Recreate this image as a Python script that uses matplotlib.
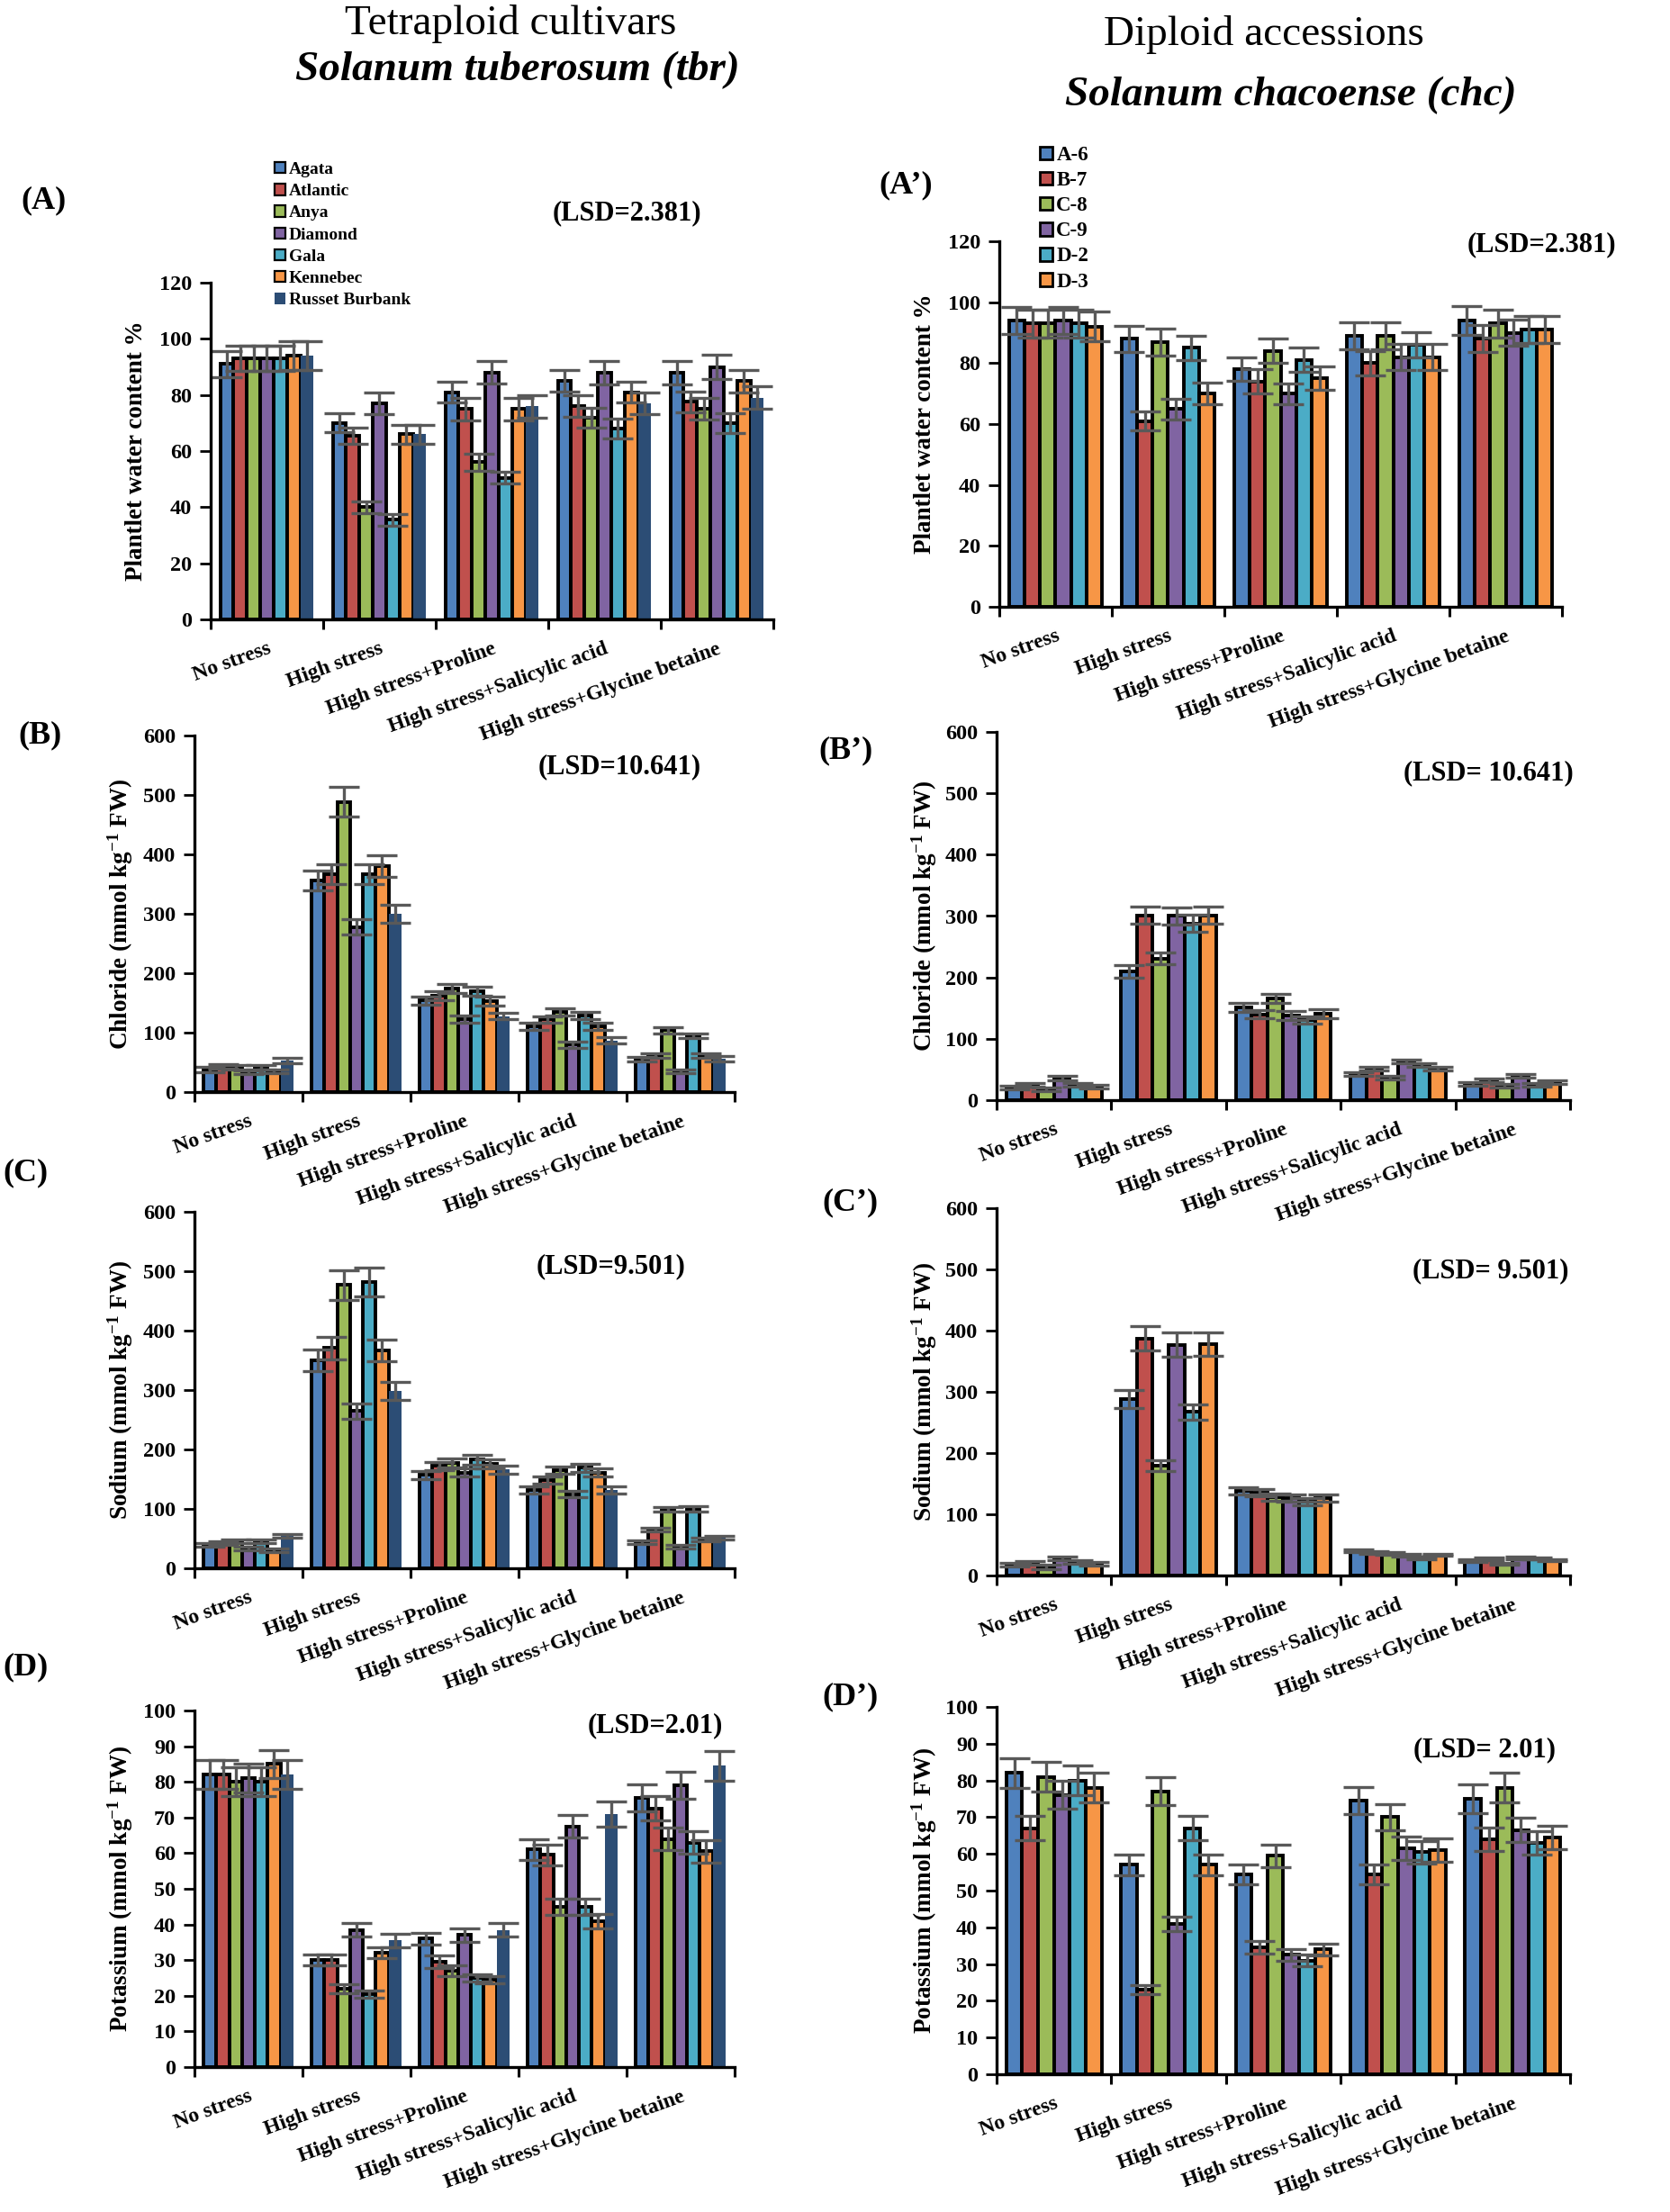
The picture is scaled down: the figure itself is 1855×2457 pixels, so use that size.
import numpy as np
import matplotlib.pyplot as plt
from matplotlib.patches import Patch

plt.rcParams['font.family'] = 'Liberation Serif'
plt.rcParams['font.weight'] = 'bold'
plt.rcParams['mathtext.default'] = 'regular'

#####################################################################
# data (rows = treatment, columns = genotype)
#####################################################################
treatments = ['No stress', 'High stress', 'High stress+Proline',
              'High stress+Salicylic acid', 'High stress+Glycine betaine']
cultivars = ['Agata', 'Atlantic', 'Anya', 'Diamond', 'Gala', 'Kennebec', 'Russet Burbank']
accessions = ['A-6', 'B-7', 'C-8', 'C-9', 'D-2', 'D-3']

tbr_water = [[91, 93, 93, 93, 93, 94, 94],
             [70, 65.5, 40, 77, 35.5, 66, 66],
             [81, 75, 56, 88, 50.5, 75, 76],
             [85, 76, 72, 88, 68, 81, 77],
             [88, 77.5, 75, 90, 70, 85, 79]]
tbr_water_err = [[4.6, 4.5, 4.5, 4.5, 4.5, 5, 5],
                 [3.4, 3, 2, 3.7, 2, 3.3, 3.3],
                 [3.7, 4, 3, 4, 2, 4, 4],
                 [3.8, 3.8, 3.5, 4.2, 3.5, 3.8, 3.8],
                 [4.2, 3.8, 3.8, 4.3, 3.5, 4, 4]]

chc_water = [[94, 93, 93, 94, 93, 92],
             [88, 61, 87, 65, 85, 70],
             [78, 74, 84, 70, 81, 75],
             [89, 80, 89, 82, 86, 82],
             [94, 88, 93, 90, 91, 91]]
chc_water_err = [[4.5, 4.6, 4.6, 4.5, 4.6, 4.8],
                 [4.3, 3, 4.4, 3.4, 4, 3.6],
                 [3.8, 4, 4, 3.4, 4, 3.9],
                 [4.4, 4, 4.4, 4.2, 4.2, 4.2],
                 [4.6, 4.4, 4.6, 4.4, 4.5, 4.5]]

tbr_cl = [[38, 43, 42, 34, 42, 35, 53],
          [356, 367, 488, 278, 367, 380, 300],
          [154, 162, 174, 123, 170, 153, 128],
          [111, 122, 135, 80, 129, 111, 87],
          [55, 61, 104, 35, 95, 61, 56]]
tbr_cl_err = [[4, 4, 4, 3, 4, 3, 4],
              [17, 17, 25, 13, 17, 18, 15],
              [7, 7, 8, 6, 8, 7, 6],
              [6, 6, 6, 5, 6, 6, 5],
              [4, 4, 5, 3, 4, 4, 4]]

chc_cl = [[21, 25, 18, 36, 25, 22],
          [210, 301, 231, 300, 288, 301],
          [151, 140, 166, 138, 130, 141],
          [42, 52, 37, 63, 57, 51],
          [27, 32, 23, 40, 25, 29]]
chc_cl_err = [[3, 3, 3, 3, 3, 3],
              [10, 14, 10, 14, 14, 14],
              [7, 7, 7, 7, 6, 7],
              [3, 3, 3, 3, 3, 3],
              [3, 3, 3, 3, 3, 3]]

tbr_na = [[39, 43, 45, 34, 46, 31, 54],
          [350, 371, 477, 265, 482, 367, 299],
          [157, 172, 177, 161, 183, 176, 166],
          [132, 148, 165, 125, 169, 161, 132],
          [44, 65, 99, 37, 100, 49, 51]]
tbr_na_err = [[3, 3, 3, 3, 3, 3, 3],
              [18, 19, 25, 13, 24, 18.5, 15],
              [7, 7, 8, 7, 8, 8, 7],
              [6, 6, 6, 6, 7, 7, 6],
              [3, 3, 4, 3, 4, 3, 3]]

chc_na = [[17, 21, 14, 28, 22, 19],
          [288, 387, 179, 377, 267, 378],
          [138, 135, 128, 126, 120, 127],
          [40, 38, 36, 33, 29, 34],
          [24, 27, 19, 29, 28, 25]]
chc_na_err = [[3, 3, 3, 3, 3, 3],
              [15, 20, 9, 20, 13, 19],
              [6, 6, 6, 6, 6, 6],
              [2, 2, 2, 2, 2, 2],
              [2, 2, 2, 2, 2, 2]]

tbr_k = [[82, 82, 80, 81, 80, 85, 82],
         [30, 30, 22, 38.5, 20.5, 32, 35.5],
         [36, 29.5, 27, 37, 25, 24.5, 38.5],
         [61, 59.5, 45, 67.5, 45, 41, 71],
         [75.5, 72.5, 64, 79, 63, 60.5, 84.5]]
tbr_k_err = [[4, 4, 4, 4, 4, 4, 4],
             [1.5, 1.5, 1.2, 1.8, 1, 1.5, 1.8],
             [1.7, 1.7, 1.5, 1.8, 1, 1, 1.8],
             [3, 2.9, 2.3, 3.2, 2.2, 2, 3.5],
             [3.8, 3.4, 3.1, 3.8, 3.2, 3.1, 4.2]]

chc_k = [[82, 67, 81, 76, 80, 78],
         [57, 23, 77, 41, 67, 57],
         [54.5, 34.5, 59.5, 32.5, 31, 34],
         [74.5, 54.5, 70, 61.5, 60.5, 61],
         [75, 64, 78, 66.5, 63, 64.5]]
chc_k_err = [[4, 3.3, 4, 3.8, 4, 4],
             [2.9, 1.2, 3.8, 2, 3.3, 2.9],
             [2.7, 1.7, 3.1, 1.6, 1.6, 1.6],
             [3.7, 2.7, 3.5, 3.1, 3.1, 3.1],
             [3.8, 3.1, 4, 3.3, 3.1, 3.2]]

colors = ['#4F81BD', '#C0504D', '#9BBB59', '#8064A2', '#4BACC6', '#F79646', '#2C4D75']
edges = ['black'] * 6 + ['none']

#####################################################################
# figure
#####################################################################
W, H = 1856, 2457
fig = plt.figure(figsize=(W / 100, H / 100), dpi=100)


def panel(box, vals, errs, ylim, step, ylabel, ylabel_x, lsd, lsd_xy, tag, tag_xy):
    l, r, t, b = box
    ax = fig.add_axes([l / W, 1 - b / H, (r - l) / W, (b - t) / H])
    ax.patch.set_alpha(0)
    v = np.array(vals, dtype=float).T
    e = np.array(errs, dtype=float).T
    n = v.shape[0]
    w = 0.83 / n
    x = np.arange(len(treatments))
    for i in range(n):
        ax.bar(x + (i - (n - 1) / 2) * w, v[i], w, color=colors[i],
               edgecolor=edges[i], linewidth=2.8, zorder=2)
        ax.errorbar(x + (i - (n - 1) / 2) * w, v[i], yerr=e[i], fmt='none',
                    ecolor='#595959', elinewidth=2.4, capsize=12, capthick=2.4, zorder=3)
    ax.set_xlim(-0.5, len(treatments) - 0.5)
    ax.set_ylim(0, ylim)
    ax.set_yticks(np.arange(0, ylim + 1, step))
    ax.set_xticks(np.arange(-0.5, len(treatments), 1))
    ax.set_xticklabels([])
    ax.set_xticks(x, minor=True)
    ax.set_xticklabels(treatments, minor=True, rotation=20, ha='right',
                       rotation_mode='anchor', fontsize=17)
    ax.tick_params(axis='x', which='major', length=8, width=2.2)
    ax.tick_params(axis='x', which='minor', length=0, pad=16)
    ax.tick_params(axis='y', length=9, width=2, labelsize=17.5, pad=6)
    for s in ['top', 'right']:
        ax.spines[s].set_visible(False)
    for s in ['left', 'bottom']:
        ax.spines[s].set_linewidth(2.4)
        ax.spines[s].set_zorder(4)
    fig.text(ylabel_x / W, 1 - (t + b) / 2 / H, ylabel, rotation=90,
             ha='center', va='center', fontsize=19.5)
    fig.text(lsd_xy[0] / W, 1 - lsd_xy[1] / H, lsd, ha='center', va='center', fontsize=22)
    fig.text(tag_xy[0] / W, 1 - tag_xy[1] / H, tag, ha='left', va='center', fontsize=26)
    return ax


lab_w = 'Plantlet water content %'
lab_cl = 'Chloride (mmol kg$^{-1}$ FW)'
lab_na = 'Sodium (mmol kg$^{-1}$ FW)'
lab_k = 'Potassium (mmol kg$^{-1}$ FW)'

panel((234, 859, 314, 688), tbr_water, tbr_water_err, 120, 20, lab_w, 152,
      '(LSD=2.381)', (696, 237), '(A)', (23, 223))
panel((1110, 1735, 268, 674), chc_water, chc_water_err, 120, 20, lab_w, 1027,
      '(LSD=2.381)', (1712, 272), '(A\u2019)', (976, 206))
panel((216, 816, 817, 1213), tbr_cl, tbr_cl_err, 600, 100, lab_cl, 134,
      '(LSD=10.641)', (688, 852), '(B)', (20, 817))
panel((1107, 1744, 813, 1222), chc_cl, chc_cl_err, 600, 100, lab_cl, 1027,
      '(LSD= 10.641)', (1653, 859), '(B\u2019)', (909, 834))
panel((216, 816, 1346, 1742), tbr_na, tbr_na_err, 600, 100, lab_na, 134,
      '(LSD=9.501)', (679, 1407), '(C)', (3, 1303))
panel((1107, 1744, 1342, 1750), chc_na, chc_na_err, 600, 100, lab_na, 1027,
      '(LSD= 9.501)', (1656, 1412), '(C\u2019)', (913, 1336))
panel((216, 816, 1900, 2296), tbr_k, tbr_k_err, 100, 10, lab_k, 134,
      '(LSD=2.01)', (728, 1917), '(D)', (3, 1852))
panel((1107, 1744, 1896, 2304), chc_k, chc_k_err, 100, 10, lab_k, 1027,
      '(LSD= 2.01)', (1649, 1944), '(D\u2019)', (913, 1885))

# legends
h_tbr = [Patch(facecolor=c, edgecolor='black', linewidth=1.6) for c in colors[:6]]
h_tbr.append(Patch(facecolor=colors[6], edgecolor='none'))
fig.legend(h_tbr, cultivars, loc='upper left', bbox_to_anchor=(305 / W, 1 - 180 / H),
           frameon=False, fontsize=14, handlelength=0.6, handleheight=0.6,
           handletextpad=0.2, labelspacing=0.37, borderpad=0, borderaxespad=0)
h_chc = [Patch(facecolor=c, edgecolor='black', linewidth=2) for c in colors[:6]]
fig.legend(h_chc, accessions, loc='upper left', bbox_to_anchor=(1155 / W, 1 - 162 / H),
           frameon=False, fontsize=16.5, handlelength=0.6, handleheight=0.6,
           handletextpad=0.2, labelspacing=0.31, borderpad=0, borderaxespad=0)

# column titles
fig.text(567 / W, 1 - 27 / H, 'Tetraploid cultivars', ha='center', va='center',
         fontsize=34, fontweight='normal')
fig.text(575 / W, 1 - 78 / H, 'Solanum tuberosum (tbr)', ha='center', va='center',
         fontsize=34, fontweight='bold', style='italic')
fig.text(1404 / W, 1 - 39 / H, 'Diploid accessions', ha='center', va='center',
         fontsize=34, fontweight='normal')
fig.text(1434 / W, 1 - 106 / H, 'Solanum chacoense (chc)', ha='center', va='center',
         fontsize=34, fontweight='bold', style='italic')

fig.savefig('out.png', dpi=100)
